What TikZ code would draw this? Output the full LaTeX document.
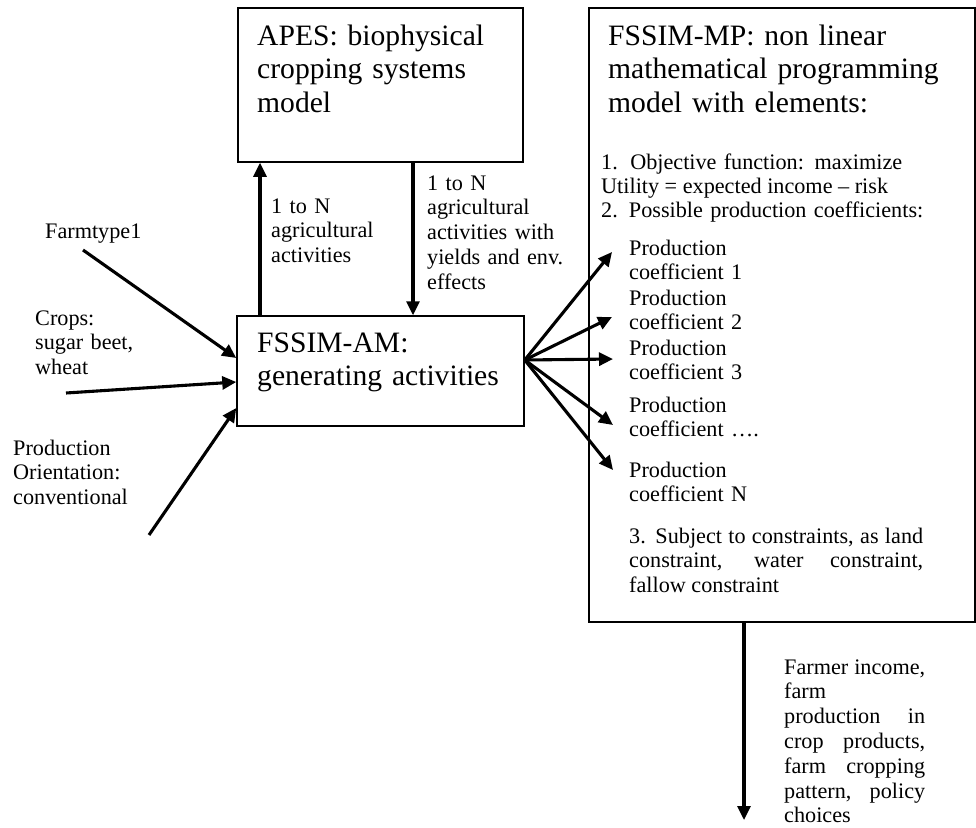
\documentclass[tikz,border=0pt]{standalone}
\usepackage{fontspec}
\setmainfont{Liberation Serif}
\usetikzlibrary{arrows.meta}
\newcommand{\boxfont}{\fontsize{29.6}{33.7}\selectfont}
\newcommand{\notefont}{\fontsize{22.2}{24.8}\selectfont}
\tikzset{box/.style={draw,line width=1.5pt,inner sep=0pt},
  title/.style={font=\boxfont,text width=#1,align=left,inner sep=0pt,anchor=base west},
  note/.style={font=\notefont,text width=#1,align=left,inner sep=0pt,anchor=base west},
  note/.default=200pt,
  arr/.style={line width=3.1pt,-{Triangle[length=14pt,width=13pt]}},
}
\sloppy
\hyphenpenalty=10000

\begin{document}
\begin{tikzpicture}[x=1pt,y=-1pt]
	\useasboundingbox (0,0) rectangle (976,827);
	% the three models
	\node[box,minimum width=285pt,minimum height=154pt] (apes) at (380.5,85) {};
	\node[box,minimum width=287pt,minimum height=110pt] (am) at (380.5,371) {};
	\node[box,minimum width=386pt,minimum height=614pt] (mp) at (782,315) {};
	\node[title=260pt] (apestext) at (257,45) {APES: biophysical\\cropping systems\\model};
	\node[title=260pt] (amtext) at (257,352) {FSSIM-AM:\\generating activities};
	\node[title=350pt] (mptext) at (608,45) {FSSIM-MP: non linear\\mathematical programming\\model with elements:};
	
	% inputs
	\node[note] (farm) at (45,238) {Farmtype1};
	\node[note] (crops) at (35,325) {Crops:\\sugar beet,\\wheat};
	\node[note] (orient) at (13,455) {Production\\Orientation:\\conventional};
	\coordinate (farmtail) at (83,250);
	\coordinate (cropstail) at (66,393);
	\coordinate (orienttail) at (149,535);
	
	% exchange with APES
	\node[note] (upl) at (271,213) {1 to N\\agricultural\\activities};
	\node[note] (downl) at (427,190) {1 to N\\agricultural\\activities with\\yields and env.\\effects};
	\coordinate (upx) at (260,0);
	\coordinate (dnx) at (413,0);
	
	% content of FSSIM-MP
	\node[note=301pt,align=justify] (objective) at (601,169) {1. Objective function: maximize\linebreak Utility = expected income – risk};
	\node[note=330pt] (possible) at (601,217) {2. Possible production coefficients:};
	\node[note] (coef1) at (629,255) {Production\\coefficient 1};
	\node[note] (coef2) at (629,305) {Production\\coefficient 2};
	\node[note] (coef3) at (629,355) {Production\\coefficient 3};
	\node[note] (coef4) at (629,412) {Production\\coefficient ….};
	\node[note] (coefn) at (629,477) {Production\\coefficient N};
	\node[note=294pt,align=justify] (constr) at (629,543) {3. Subject to constraints, as land\linebreak constraint, water constraint,\linebreak fallow constraint};
	\coordinate (fan) at ([yshift=11pt]am.east);
	\coordinate (t1) at (612,252);
	\coordinate (t2) at (612,317);
	\coordinate (t3) at (613,359);
	\coordinate (t4) at (613,425);
	\coordinate (t5) at (613,470);
	
	% output
	\node[note=141pt,align=justify] (output) at (784,674) {Farmer income,\linebreak farm\newline production in\linebreak crop products,\linebreak farm cropping\linebreak pattern, policy\linebreak choices};
	\coordinate (outend) at (744,820);
	
	\path
	(farmtail) edge[arr] ([yshift=13pt]am.west)
	(cropstail) edge[arr] ([yshift=-11pt]am.west)
	(orienttail) edge[arr] ([yshift=-37pt]am.west)
	(upx |- am.north) edge[arr] (upx |- apes.south)
	(dnx |- apes.south) edge[arr] (dnx |- am.north)
	(fan) edge[arr] (t1)
	(fan) edge[arr] (t2)
	(fan) edge[arr] (t3)
	(fan) edge[arr] (t4)
	(fan) edge[arr] (t5)
	(outend |- mp.south) edge[arr] (outend);
\end{tikzpicture}
\end{document}
